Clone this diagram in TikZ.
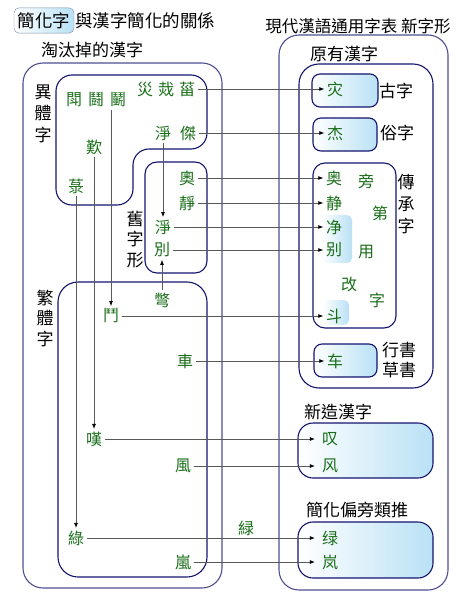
\documentclass[tikz,border=0pt]{standalone}
\usepackage{fontspec}
\newfontfamily\tcfont{Noto Sans CJK TC}
\newfontfamily\scfont{Noto Sans CJK SC}
\usetikzlibrary{arrows.meta,positioning}
\definecolor{hanzi}{RGB}{25,110,25}
\definecolor{navy}{RGB}{20,20,110}
\definecolor{paleblue}{RGB}{185,225,245}
\definecolor{headline}{RGB}{120,140,165}
\begin{document}
\begin{tikzpicture}[x=1pt,y=-1pt,
    every node/.style={font=\tcfont\fontsize{16}{21}\selectfont, inner sep=2.5pt},
    old/.style={text=hanzi},
    new/.style={text=hanzi, font=\scfont\fontsize{16}{21}\selectfont},
    title/.style={font=\tcfont\fontsize{17}{21}\selectfont},
    vert/.style={align=center, font=\tcfont\fontsize{17}{#1}\selectfont},
    box/.style={draw=navy, line width=1.1pt, rounded corners=#1},
    box/.default=16pt,
    tint/.style={left color=white, right color=paleblue},
    link/.style={every edge/.style={draw=black!65, line width=0.7pt,
      -{Latex[color=black,length=5pt,width=4pt]}}}]
  \useasboundingbox (0,0) rectangle (463,599);
  % frames, left side
  \draw[box=20pt, draw=navy!75] (23,63) rectangle (222,588);
  \draw[box] (56,75) -- (207,75) -- (207,149) -- (133,149) -- (133,205) -- (56,205) -- cycle;
  \draw[box=12pt] (145,162) rectangle (207,273);
  \draw[box=20pt] (58,282) rectangle (207,577);
  % frames, right side
  \draw[box=20pt, draw=navy!75] (279,35) rectangle (448,590);
  \draw[box=20pt] (299,64) rectangle (433,388);
  \draw[box=8pt, tint] (312,74) rectangle (378,107);
  \draw[box=8pt, tint] (313,118) rectangle (377,151);
  \draw[box=12pt] (313,163) rectangle (396,328);
  \path[tint, rounded corners=5pt] (322,215) rectangle (352,263);
  \path[tint, rounded corners=5pt] (323,300) rectangle (349,325);
  \draw[box=8pt, tint] (314,344) rectangle (377,377);
  \draw[box=15pt, tint] (298,423) rectangle (433,478);
  \draw[box=15pt, tint] (298,522) rectangle (433,578);
  % headings
  \node (Head) [draw=headline, rounded corners=5pt, tint, inner xsep=3.75pt, inner ysep=4.5pt,
    font=\tcfont\fontsize{17.5}{21}\selectfont] at (44,20.5) {簡化字};
  \node (HeadR) [anchor=west, inner xsep=1pt, font=\tcfont\fontsize{17.5}{21}\selectfont]
    at (Head.east) {與漢字簡化的關係};
  \node (Gone) [title] at (92,50) {淘汰掉的漢字};
  \node (Std) [font=\tcfont\fontsize{16.5}{21}\selectfont] at (358,26) {現代漢語通用字表 新字形};
  \node (Orig) [title] at (344,54) {原有漢字};
  \node (Made) [title] at (338,412) {新造漢字};
  \node (Rad) [title] at (357,510) {簡化偏旁類推};
  \node (VarL) [vert=21.5pt] at (43,113.5) {異\\體\\字};
  \node (TrdL) [vert=20.5pt] at (45,318) {繁\\體\\字};
  \node (OldL) [vert=20.5pt] at (135,239.5) {舊\\字\\形};
  \node (InhL) [vert=22pt] at (406,204) {傳\\承\\字};
  \node (CurL) [vert=20pt] at (399,360) {行書\\草書};
  \node (AncL) [title] at (396,91) {古字};
  \node (VulL) [title] at (397,133) {俗字};
  % variant forms
  \node (dA) [old] at (74,100) {閗};
  \node (dB) [old] at (96,100) {鬪};
  \node (dC) [old] at (118,100) {鬭};
  \node (zA) [old] at (145,89) {災};
  \node (zB) [old] at (166,89) {烖};
  \node (zC) [old] at (187,89) {菑};
  \node (jA) [old] at (163,133) {淨};
  \node (jB) [old] at (188,133) {傑};
  \node (tA) [old] at (94,147) {歎};
  \node (lA) [old] at (76,186) {菉};
  % old glyph forms
  \node (ao) [old] at (187,178) {奧};
  \node (jing) [old] at (187,203) {靜};
  \node (jingO) [old] at (163,227) {淨};
  \node (bie) [old] at (162,250) {別};
  % traditional forms
  \node (bieV) [old] at (162,300) {彆};
  \node (dou) [old] at (111,316) {鬥};
  \node (che) [old] at (185,361) {車};
  \node (tan) [old] at (94,439) {嘆};
  \node (feng) [old] at (183,466) {風};
  \node (lv) [old] at (76,538) {綠};
  \node (lan) [old] at (183,562) {嵐};
  \node (lvNote) [old] at (246,528) {緑};
  % standard forms
  \node (Zai) [new] at (335,89) {灾};
  \node (Jie) [new] at (335,133) {杰};
  \node (Ao) [new] at (334,178) {奥};
  \node (Jing) [new] at (334,203) {静};
  \node (JingN) [new] at (334,227) {净};
  \node (Bie) [new] at (334,250) {别};
  \node (Dou) [new] at (334,316) {斗};
  \node (Che) [new] at (335,361) {车};
  \node (Tan) [new, inner xsep=7pt] at (330,439) {叹};
  \node (Feng) [new, inner xsep=7pt] at (330,466) {风};
  \node (Lv) [new, inner xsep=7pt] at (330,538) {绿};
  \node (Lan) [new, inner xsep=7pt] at (330,562) {岚};
  \node (Pa) [new] at (366,181) {旁};
  \node (Pb) [new] at (380,213) {第};
  \node (Pc) [new] at (366,252) {用};
  \node (Pd) [new] at (349,284) {改};
  \node (Pe) [new] at (377,300) {字};
  % links
  \path[link]
    (zC) edge (Zai)
    (jB) edge (Jie)
    (ao) edge (Ao)
    (jing) edge (Jing)
    (jingO) edge (JingN)
    (bie) edge (Bie)
    (dou) edge (Dou)
    (che) edge (Che)
    (tan) edge (Tan)
    (feng) edge (Feng)
    (lv) edge (Lv)
    (lan) edge (Lan);
  \path[link]
    (dC.south -| dou) edge (dou)
    (tA) edge (tan)
    (lA) edge (lv)
    (jA) edge (jingO)
    (bieV) edge (bie);
\end{tikzpicture}
\end{document}
